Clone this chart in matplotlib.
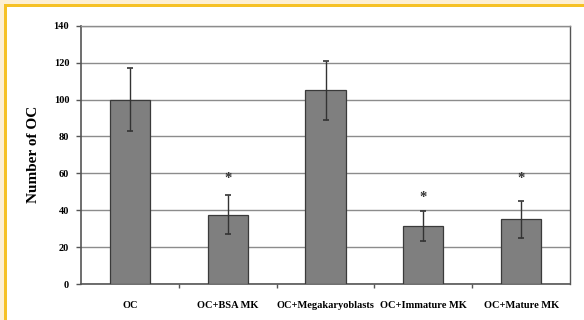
import matplotlib
matplotlib.use("Agg")
import matplotlib.pyplot as plt
from matplotlib.patches import Rectangle
import numpy as np

categories = ["OC", "OC+BSA MK", "OC+Megakaryoblasts", "OC+Immature MK", "OC+Mature MK"]
values = [100, 37.5, 105, 31.5, 35]
errors = [17, 10.5, 16, 8, 10]
significant = [False, True, False, True, True]
star_y = [None, 57, None, 47, 57]
yticks = [0, 20, 40, 60, 80, 100, 120, 140]

plt.rcParams['font.family'] = ['Liberation Serif', 'DejaVu Serif']
plt.rcParams['font.weight'] = 'bold'

fig = plt.figure(figsize=(5.84, 3.2), dpi=100)
fig.patches.append(Rectangle((0, 0), 1, 1, transform=fig.transFigure, facecolor='#fdefd3', edgecolor='none', zorder=-3))
fig.patches.append(Rectangle((4/584, 0), 1, 1 - 4/320, transform=fig.transFigure, facecolor='#f6c125', edgecolor='none', zorder=-2))
fig.patches.append(Rectangle((7/584, 0), 1, 1 - 7/320, transform=fig.transFigure, facecolor='white', edgecolor='none', zorder=-1))

ax = fig.add_axes([81/584, 36/320, (570-81)/584, (284-25.7)/320])
ax.set_facecolor('none')
x = np.arange(len(categories))
ax.bar(x, values, width=0.41, color='#7f7f7f', edgecolor='#3a3a3a', linewidth=0.9, zorder=3)
ax.errorbar(x, values, yerr=errors, fmt='none', ecolor='#333333', elinewidth=1.0, capsize=2.5, capthick=1.2, zorder=4)
for xi, s, sy in zip(x, significant, star_y):
    if s:
        ax.text(xi, sy, '*', ha='center', va='center', fontsize=10.5, fontweight='bold', color='#333333')

ax.set_xlim(-0.5, len(categories) - 0.5)
ax.set_ylim(0, 140)
ax.set_yticks(yticks)
ax.set_yticklabels([str(t) for t in yticks], fontsize=7.5, fontweight='bold')
ax.yaxis.grid(True, color='#8c8c8c', linewidth=1.0, zorder=0)
ax.set_axisbelow(True)

ax.set_xticks(x)
ax.set_xticklabels(categories, fontsize=7.5, fontweight='bold')
ax.tick_params(axis='x', length=0, pad=12)
ax.set_xticks(np.arange(0.5, len(categories) - 0.5, 1), minor=True)
ax.tick_params(axis='x', which='minor', length=3, width=1, color='#555555', direction='out')
ax.tick_params(axis='y', length=3.5, width=1, color='#555555', pad=5, labelsize=7.5)

for side in ['left', 'bottom']:
    ax.spines[side].set_color('#555555')
    ax.spines[side].set_linewidth(1.2)
ax.spines['right'].set_color('#555555')
ax.spines['right'].set_linewidth(1.0)
ax.spines['top'].set_color('#8c8c8c')
ax.spines['top'].set_linewidth(1.0)

ax.set_ylabel('Number of OC', fontsize=11, fontweight='bold', labelpad=10)

fig.savefig('out.png', dpi=100)
